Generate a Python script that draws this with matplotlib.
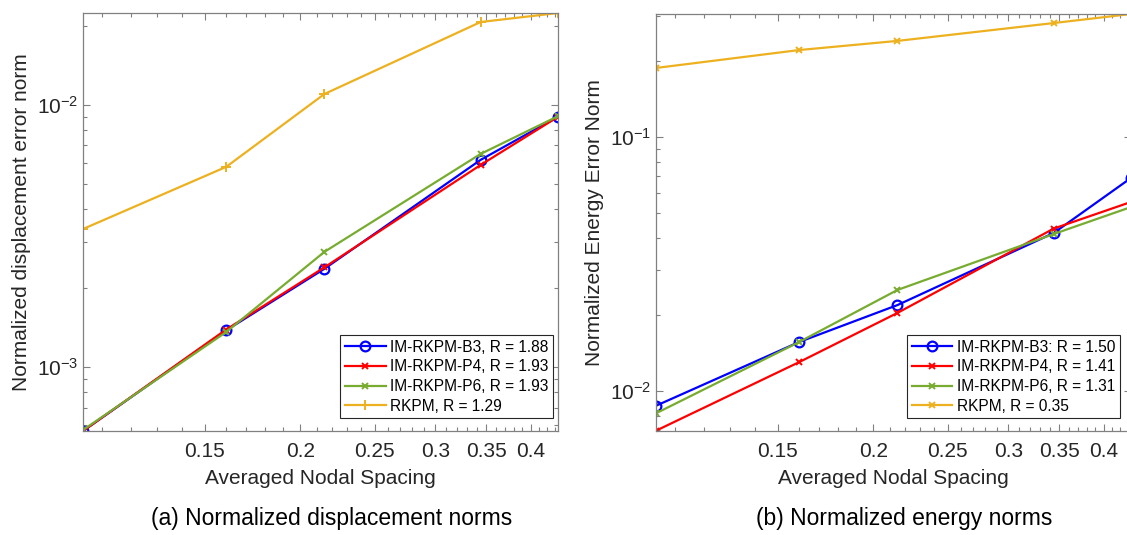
import matplotlib
matplotlib.use('Agg')
import matplotlib.pyplot as plt
import matplotlib.ticker as mticker
import numpy as np

plt.rcParams['font.family'] = ['Liberation Sans', 'DejaVu Sans']
plt.rcParams['mathtext.default'] = 'regular'

# averaged nodal spacing (same for every series)
h = [0.104, 0.16, 0.215, 0.344, 0.434]

# (a) normalized displacement error norm
disp_b3 = [5.7e-4, 1.38e-3, 2.37e-3, 6.17e-3, 9.0e-3]
disp_p4 = [5.7e-4, 1.39e-3, 2.4e-3, 5.9e-3, 9.0e-3]
disp_p6 = [5.75e-4, 1.36e-3, 2.75e-3, 6.5e-3, 9.05e-3]
disp_rk = [3.36e-3, 5.8e-3, 1.10e-2, 2.07e-2, 2.24e-2]
disp_labels = ['IM-RKPM-B3, R = 1.88', 'IM-RKPM-P4, R = 1.93',
               'IM-RKPM-P6, R = 1.93', 'RKPM, R = 1.29']

# (b) normalized energy error norm
ener_b3 = [8.75e-3, 1.56e-2, 2.18e-2, 4.19e-2, 6.9e-2]
ener_p4 = [6.98e-3, 1.30e-2, 2.03e-2, 4.36e-2, 5.55e-2]
ener_p6 = [8.17e-3, 1.56e-2, 2.5e-2, 4.15e-2, 5.3e-2]
ener_rk = [0.187, 0.22, 0.239, 0.281, 0.305]
ener_labels = ['IM-RKPM-B3: R = 1.50', 'IM-RKPM-P4, R = 1.41',
               'IM-RKPM-P6, R = 1.31', 'RKPM, R = 0.35']

xticks = [0.15, 0.2, 0.25, 0.3, 0.35, 0.4]
xtick_labels = ['0.15', '0.2', '0.25', '0.3', '0.35', '0.4']

c_blue = '#0000FF'
c_red = '#FF0000'
c_green = '#77AC30'
c_orange = '#EDB120'
c_text = '#262626'
c_axis = '#808080'

W, H = 1127, 535
fig = plt.figure(figsize=(W / 100, H / 100), dpi=100)


def px_axes(x0, x1, y0, y1):
    return fig.add_axes([x0 / W, 1 - y1 / H, (x1 - x0) / W, (y1 - y0) / H])


def style(ax, ylim, ylabel):
    ax.set_xscale('log')
    ax.set_yscale('log')
    ax.set_xlim(0.104, 0.434)
    ax.set_ylim(*ylim)
    ax.xaxis.set_major_locator(mticker.FixedLocator(xticks))
    ax.xaxis.set_major_formatter(mticker.FixedFormatter(xtick_labels))
    ax.xaxis.set_minor_locator(mticker.FixedLocator(np.arange(0.11, 0.44, 0.01)))
    ax.xaxis.set_minor_formatter(mticker.NullFormatter())
    ax.tick_params(which='both', direction='in', top=True, right=True,
                   colors=c_axis, labelcolor=c_text, labelsize=15, width=0.8)
    ax.tick_params(which='major', length=5)
    ax.tick_params(which='minor', length=3)
    ax.tick_params(axis='x', pad=8)
    for s in ax.spines.values():
        s.set_color(c_axis)
        s.set_linewidth(0.9)
    ax.set_xlabel('Averaged Nodal Spacing', fontsize=15, color=c_text, labelpad=6)
    ax.set_ylabel(ylabel, fontsize=15, color=c_text, labelpad=4)


# ---- (a) ----
ax1 = px_axes(83, 558, 13, 431)
ax1.plot(h, disp_b3, '-o', color=c_blue, lw=1.6, ms=7, mfc='none', mew=1.6, label=disp_labels[0])
ax1.plot(h, disp_p4, '-x', color=c_red, lw=1.6, ms=5, mew=1.4, label=disp_labels[1])
ax1.plot(h, disp_p6, '-x', color=c_green, lw=1.6, ms=5, mew=1.4, label=disp_labels[2])
ax1.plot(h, disp_rk, '-+', color=c_orange, lw=1.6, ms=7, mew=1.4, label=disp_labels[3])
style(ax1, (5.7e-4, 2.24e-2), 'Normalized displacement error norm')
leg1 = ax1.legend(loc='lower right', bbox_to_anchor=(0.99, 0.03), fontsize=11.2,
                  fancybox=False, framealpha=1, edgecolor=c_text, borderpad=0.3,
                  labelspacing=0.3, handlelength=2.6, handletextpad=0.3,
                  borderaxespad=0)
leg1.get_frame().set_linewidth(0.8)

# ---- (b) ----
ax2 = px_axes(656, 1131, 14, 431)
ax2.plot(h, ener_b3, '-o', color=c_blue, lw=1.6, ms=7, mfc='none', mew=1.6, label=ener_labels[0])
ax2.plot(h, ener_p4, '-x', color=c_red, lw=1.6, ms=5, mew=1.4, label=ener_labels[1])
ax2.plot(h, ener_p6, '-x', color=c_green, lw=1.6, ms=5, mew=1.4, label=ener_labels[2])
ax2.plot(h, ener_rk, '-x', color=c_orange, lw=1.6, ms=5, mew=1.4, label=ener_labels[3])
style(ax2, (6.96e-3, 0.305), 'Normalized Energy Error Norm')
leg2 = ax2.legend(loc='lower right', bbox_to_anchor=(0.977, 0.03), fontsize=11.2,
                  fancybox=False, framealpha=1, edgecolor=c_text, borderpad=0.3,
                  labelspacing=0.3, handlelength=2.6, handletextpad=0.3,
                  borderaxespad=0)
leg2.get_frame().set_linewidth(0.8)

# captions
fig.text(332 / W, 1 - 519 / H, '(a) Normalized displacement norms', ha='center',
         va='center', fontsize=16.5, color='black')
fig.text(904 / W, 1 - 519 / H, '(b) Normalized energy norms', ha='center',
         va='center', fontsize=16.5, color='black')

fig.savefig('out.png', dpi=100)
